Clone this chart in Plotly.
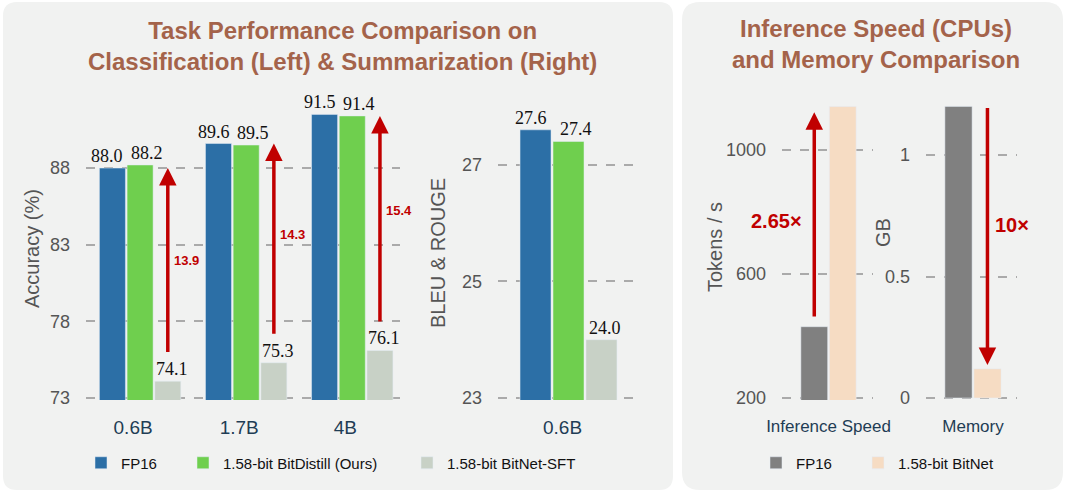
import plotly.graph_objects as go

W, H = 1068, 492

# ---------------- data ----------------
models = ["0.6B", "1.7B", "4B"]
fp16_acc = [88.0, 89.6, 91.5]
bitdistill_acc = [88.2, 89.5, 91.4]
sft_acc = [74.1, 75.3, 76.1]
acc_ticks = [73, 78, 83, 88]

sum_models = ["0.6B"]
fp16_sum = [27.6]
bitdistill_sum = [27.4]
sft_sum = [24.0]
sum_ticks = [23, 25, 27]

speed_cat = ["Inference Speed"]
speed_fp16 = [430]
speed_bitnet = [1140]
speed_ticks = [200, 600, 1000]

mem_cat = ["Memory"]
mem_fp16 = [1.2]
mem_bitnet = [0.12]
mem_ticks = [0, 0.5, 1]

# ---------------- style ----------------
BLUE = "#2c6fa6"
GREEN = "#6fcf4e"
SAGE = "#c8d1c6"
GRAY = "#808080"
PEACH = "#f6dcc3"
RED = "#c00000"
BROWN = "#a4634a"
PANEL = "#f1f2f1"
TICK = "#555555"
XLAB = "#1f3d55"
SANS = "Liberation Sans, Arial, sans-serif"
SERIF = "Liberation Serif, Times New Roman, serif"
BARGAP = 0.217
GROUPGAP = 0.06


def fx(px):
    return px / W


def fy(py):
    return 1 - py / H


fig = go.Figure()

# left classification
fig.add_trace(go.Bar(x=models, y=fp16_acc, name="FP16", marker_color=BLUE, xaxis="x", yaxis="y",
                     legend="legend"))
fig.add_trace(go.Bar(x=models, y=bitdistill_acc, name="1.58-bit BitDistill (Ours)", marker_color=GREEN,
                     xaxis="x", yaxis="y", legend="legend2"))
fig.add_trace(go.Bar(x=models, y=sft_acc, name="1.58-bit BitNet-SFT", marker_color=SAGE,
                     xaxis="x", yaxis="y", legend="legend3"))
# summarization
fig.add_trace(go.Bar(x=sum_models, y=fp16_sum, name="FP16", marker_color=BLUE, xaxis="x2", yaxis="y2",
                     showlegend=False))
fig.add_trace(go.Bar(x=sum_models, y=bitdistill_sum, name="1.58-bit BitDistill (Ours)", marker_color=GREEN,
                     xaxis="x2", yaxis="y2", showlegend=False))
fig.add_trace(go.Bar(x=sum_models, y=sft_sum, name="1.58-bit BitNet-SFT", marker_color=SAGE,
                     xaxis="x2", yaxis="y2", showlegend=False))
# speed
fig.add_trace(go.Bar(x=speed_cat, y=speed_fp16, name="FP16", marker_color=GRAY, xaxis="x3", yaxis="y3",
                     legend="legend4", legendgroup="fp"))
fig.add_trace(go.Bar(x=speed_cat, y=speed_bitnet, name="1.58-bit BitNet", marker_color=PEACH,
                     xaxis="x3", yaxis="y3", legend="legend5", legendgroup="bn"))
# memory
fig.add_trace(go.Bar(x=mem_cat, y=mem_fp16, name="FP16", marker_color=GRAY, xaxis="x4", yaxis="y4",
                     legend="legend4", legendgroup="fp", showlegend=False))
fig.add_trace(go.Bar(x=mem_cat, y=mem_bitnet, name="1.58-bit BitNet", marker_color=PEACH,
                     xaxis="x4", yaxis="y4", legend="legend5", legendgroup="bn", showlegend=False))

# ---------------- axes ----------------
PLOT_TOP, PLOT_BOT = 100, 398
EPS_PX = 2.0  # extra room below the lowest tick so its dashed grid line is drawn


def yax(lo, px_per_unit, ticks, anchor):
    eps = EPS_PX / px_per_unit
    return dict(range=[lo - eps, lo + (PLOT_BOT - PLOT_TOP) / px_per_unit], tickvals=ticks,
                showgrid=True, gridcolor="#aaaaaa", gridwidth=1.5,
                griddash="dash", zeroline=False, showline=False, ticks="", ticklabelstandoff=15,
                tickfont=dict(family=SANS, size=18, color=TICK), anchor=anchor, automargin=False,
                domain=[fy(PLOT_BOT + EPS_PX), fy(PLOT_TOP)], fixedrange=True)


def xax(rng, left_px, right_px, anchor, size, shift):
    return dict(range=rng, domain=[fx(left_px), fx(right_px)], anchor=anchor, showgrid=False,
                zeroline=False, showline=False, ticks="", ticklabelstandoff=14, automargin=False,
                ticklabelshift=shift,
                tickfont=dict(family=SANS, size=size, color=XLAB), type="category", fixedrange=True)


fig.update_layout(
    xaxis=xax([-0.51, 2.45], 86, 400, "y", 19, -7),
    yaxis=yax(73, 15.33, acc_ticks, "x"),
    xaxis2=xax([-0.558, 0.55], 498, 638, "y2", 19, -6),
    yaxis2=yax(23, 58.3, sum_ticks, "x2"),
    xaxis3=xax([-0.639, 0.611], 782, 873, "y3", 17, 0),
    yaxis3=yax(200, 0.31, speed_ticks, "x3"),
    xaxis4=xax([-0.635, 0.595], 926, 1017, "y4", 17, 0),
    yaxis4=yax(0, 243.0, mem_ticks, "x4"),
)

# ---------------- legends ----------------
def leg(px):
    return dict(x=fx(px), y=fy(463), xanchor="left", yanchor="middle", orientation="h",
                bgcolor="rgba(0,0,0,0)", font=dict(family=SANS, size=15, color="#111111"))


fig.update_layout(legend=leg(81), legend2=leg(183), legend3=leg(407),
                  legend4=leg(756), legend5=leg(858))

# ---------------- panels ----------------
def rounded(x0, y0, x1, y1, r):
    X0, X1 = fx(x0), fx(x1)
    Y0, Y1 = fy(y0), fy(y1)
    rx, ry = r / W, r / H
    return (f"M{X0 + rx},{Y0} L{X1 - rx},{Y0} Q{X1},{Y0} {X1},{Y0 - ry} "
            f"L{X1},{Y1 + ry} Q{X1},{Y1} {X1 - rx},{Y1} L{X0 + rx},{Y1} "
            f"Q{X0},{Y1} {X0},{Y1 + ry} L{X0},{Y0 - ry} Q{X0},{Y0} {X0 + rx},{Y0} Z")


shapes = [
    dict(type="path", path=rounded(3, 2, 673, 490, 14), xref="paper", yref="paper",
         fillcolor=PANEL, line=dict(width=0), layer="below"),
    dict(type="path", path=rounded(682, 2, 1063, 490, 18), xref="paper", yref="paper",
         fillcolor=PANEL, line=dict(width=0), layer="below"),
]

# ---------------- annotations ----------------
ann = []
ann.append(dict(text="<b>Task Performance Comparison on<br>Classification (Left) & Summarization (Right)</b>",
                x=fx(342), y=fy(46), xref="paper", yref="paper", showarrow=False,
                font=dict(family=SANS, size=24, color=BROWN), align="center",
                xanchor="center", yanchor="middle"))
ann.append(dict(text="<b>Inference Speed (CPUs)<br>and Memory Comparison</b>",
                x=fx(876), y=fy(44), xref="paper", yref="paper", showarrow=False,
                font=dict(family=SANS, size=24, color=BROWN), align="center",
                xanchor="center", yanchor="middle"))

# axis titles
for txt, px, py in [("Accuracy (%)", 32, 249), ("BLEU & ROUGE", 438, 253),
                    ("Tokens / s", 715, 247), ("GB", 883, 233)]:
    ann.append(dict(text=txt, x=fx(px), y=fy(py), xref="paper", yref="paper", showarrow=False,
                    textangle=-90, font=dict(family=SANS, size=20, color=TICK),
                    xanchor="center", yanchor="middle"))

# value labels above left-panel bars
slot3 = (1 - BARGAP) / 3
label_shift = [-5, 7, 4]
for xref, yref, series in [("x", "y", [fp16_acc, bitdistill_acc, sft_acc]),
                           ("x2", "y2", [fp16_sum, bitdistill_sum, sft_sum])]:
    for k, vals in enumerate(series):
        for i, v in enumerate(vals):
            ann.append(dict(x=i + (k - 1) * slot3, y=v, xref=xref, yref=yref, text=f"{v:.1f}",
                            showarrow=False, xanchor="center", yanchor="bottom",
                            xshift=label_shift[k], yshift=0,
                            font=dict(family=SERIF, size=18, color="#111111")))

# gain arrows (left)
for i, (f, s) in enumerate(zip(fp16_acc, sft_acc)):
    xpos = i + slot3
    tail = s + 1.8
    head = f - (0.1 if i == 2 else 0.0)
    ann.append(dict(x=xpos, y=head, ax=xpos, ay=tail, xref="x", yref="y", axref="x", ayref="y",
                    showarrow=True, arrowhead=2, arrowsize=1, arrowwidth=3.5, arrowcolor=RED,
                    text="", standoff=0))
    ann.append(dict(x=xpos, y=(tail + head) / 2 + 0.3 * i, xref="x", yref="y", text=f"<b>{f - s:.1f}</b>",
                    showarrow=False, xanchor="left", xshift=4,
                    font=dict(family=SANS, size=13, color=RED)))

# speed arrow
slot2 = (1 - BARGAP) / 2
sx = -slot2 / 2
ann.append(dict(x=sx, y=speed_bitnet[0] - 18, ax=sx, ay=speed_fp16[0] + 28, xref="x3", yref="y3",
                axref="x3", ayref="y3", showarrow=True, arrowhead=2, arrowsize=1, arrowwidth=3.5,
                arrowcolor=RED, text="", standoff=0))
ann.append(dict(x=sx, y=(speed_bitnet[0] + speed_fp16[0]) / 2 - 15, xref="x3", yref="y3",
                text=f"<b>{speed_bitnet[0] / speed_fp16[0]:.2f}×</b>", showarrow=False,
                xanchor="right", xshift=-10, font=dict(family=SANS, size=20, color=RED)))
# memory arrow
mx = slot2 / 2
ann.append(dict(x=mx, y=mem_bitnet[0] + 0.016, ax=mx, ay=mem_fp16[0], xref="x4", yref="y4",
                axref="x4", ayref="y4", showarrow=True, arrowhead=2, arrowsize=1, arrowwidth=3.5,
                arrowcolor=RED, text="", standoff=0))
ann.append(dict(x=mx, y=(mem_fp16[0] + mem_bitnet[0]) / 2 + 0.05, xref="x4", yref="y4",
                text=f"<b>{mem_fp16[0] / mem_bitnet[0]:.0f}×</b>", showarrow=False,
                xanchor="left", xshift=6, font=dict(family=SANS, size=20, color=RED)))

fig.update_layout(
    width=W, height=H, margin=dict(l=0, r=0, t=0, b=0, autoexpand=False),
    paper_bgcolor="white", plot_bgcolor="rgba(0,0,0,0)",
    barmode="group", bargap=BARGAP, bargroupgap=GROUPGAP,
    shapes=shapes, annotations=ann, font=dict(family=SANS),
)

fig.write_html("out.html", config={"displayModeBar": False},
               post_script="document.body.style.margin='0px';")
